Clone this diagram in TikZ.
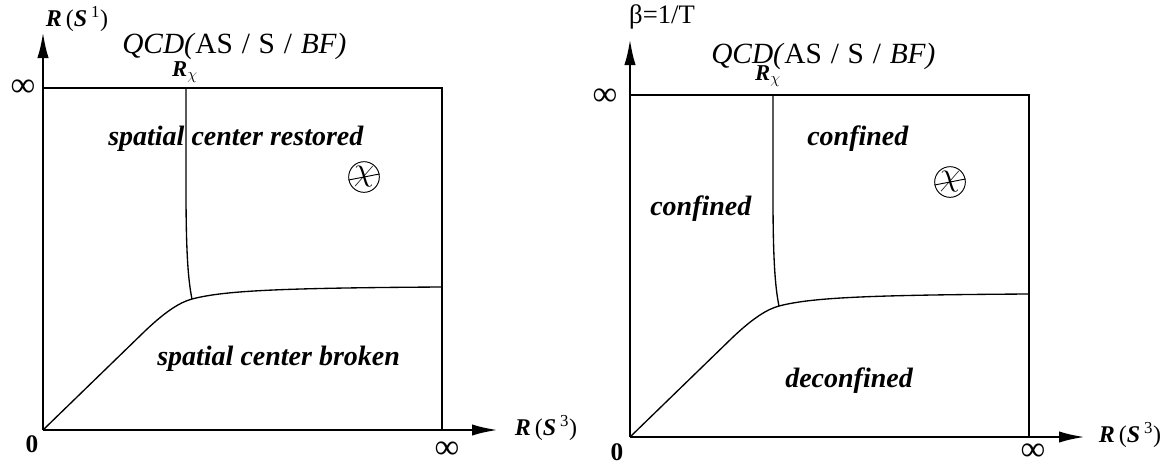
\documentclass[tikz,border=0pt]{standalone}
\usepackage{fontspec}
\setmainfont{Liberation Serif}
\usepackage{tikz}
\usetikzlibrary{arrows.meta}

\tikzset{
  axis/.style={line width=1.9pt,-{Latex[length=19.5pt,width=8.5pt]}},
  frame/.style={line width=1.3pt},
  phase/.style={line width=1pt},
  region/.style={font=\fontsize{21}{21}\selectfont\bfseries\itshape,anchor=base west,inner sep=0pt},
  lab/.style={inner sep=0pt},
  axlab/.style={inner sep=0pt,font=\fontsize{18}{18}\selectfont},
  inflab/.style={inner sep=0pt,font=\fontsize{26}{26}\selectfont},
  chimark/.style={circle,draw,line width=0.7pt,minimum size=23pt,inner sep=0pt,
    font=\fontsize{28}{28}\selectfont},
}
\newcommand{\bi}[1]{\textbf{\textit{#1}}}
\newcommand{\slsep}{\hspace{0.3em}/\hspace{0.3em}}

\begin{document}
\begin{tikzpicture}[x=0.75pt,y=-0.75pt]
  \useasboundingbox (0,0) rectangle (1173,468);
  % both panels share the same axes and phase lines
  \foreach \ox/\oy/\p in {43/430/L,630/437/R} {
    \begin{scope}[shift={(\ox,\oy)}]
      \coordinate (O\p) at (0,0);
      \draw[axis] (0,0) -- (0,-398);
      \draw[axis] (0,0) -- (455,0);
      \draw[frame] (0,-342) -- (399,-342) -- (399,0);
      \draw[phase] (0,0) -- (102,-99) .. controls (124,-120) and (138,-128) .. (149,-131)
        .. controls (180,-139) and (230,-142) .. (399,-143);
      \draw[phase] (143,-342) -- (143,-240) .. controls (143,-180) and (145,-150) .. (149,-131);
    \end{scope}
  }

  % left panel
  \node[axlab] (ylabL) at (77,19) {\bi{R}\,(\bi{S}\,\textsuperscript{1})};
  \node[lab,font=\fontsize{22}{22}\selectfont,anchor=west] (qcdL) at (122,46) {\textit{QCD(}AS\slsep S\slsep\textit{BF)}};
  \node[lab,font=\fontsize{17}{17}\selectfont] (rchiL) at (185,72) {\bi{R}$_\chi$};
  \node[inflab] (infyL) at (23,88) {∞};
  \node[region] (restored) at (108,145) {spatial center restored};
  \node[chimark] (chiL) at (364,177) {$\chi$};
  \draw[line width=0.7pt] (chiL.191) -- (chiL.11);
  \node[region] (broken) at (157,365) {spatial center broken};
  \node[lab,font=\fontsize{19}{19}\selectfont\bfseries] (zeroL) at (32,444) {0};
  \node[inflab] (infxL) at (447,450) {∞};
  \node[axlab] (xlabL) at (546,428) {\bi{R}\,(\bi{S}\,\textsuperscript{3})};

  % right panel
  \node[lab,font=\fontsize{20}{20}\selectfont] (beta) at (662,17) {β=1/T};
  \node[lab,font=\fontsize{22}{22}\selectfont,anchor=west] (qcdR) at (711,56) {\textit{QCD(}AS\slsep S\slsep\textit{BF)}};
  \node[lab,font=\fontsize{17}{17}\selectfont] (rchiR) at (768,76) {\bi{R}$_\chi$};
  \node[inflab] (infyR) at (605,97) {∞};
  \node[region] (confT) at (807,145) {confined};
  \node[region] (confL) at (650,215) {confined};
  \node[chimark] (chiR) at (950,182) {$\chi$};
  \draw[line width=0.7pt] (chiR.191) -- (chiR.11);
  \node[region] (deconf) at (785,387) {deconfined};
  \node[lab,font=\fontsize{19}{19}\selectfont\bfseries] (zeroR) at (617,452) {0};
  \node[inflab] (infxR) at (1033,452) {∞};
  \node[axlab] (xlabR) at (1130,435) {\bi{R}\,(\bi{S}\,\textsuperscript{3})};
\end{tikzpicture}
\end{document}
